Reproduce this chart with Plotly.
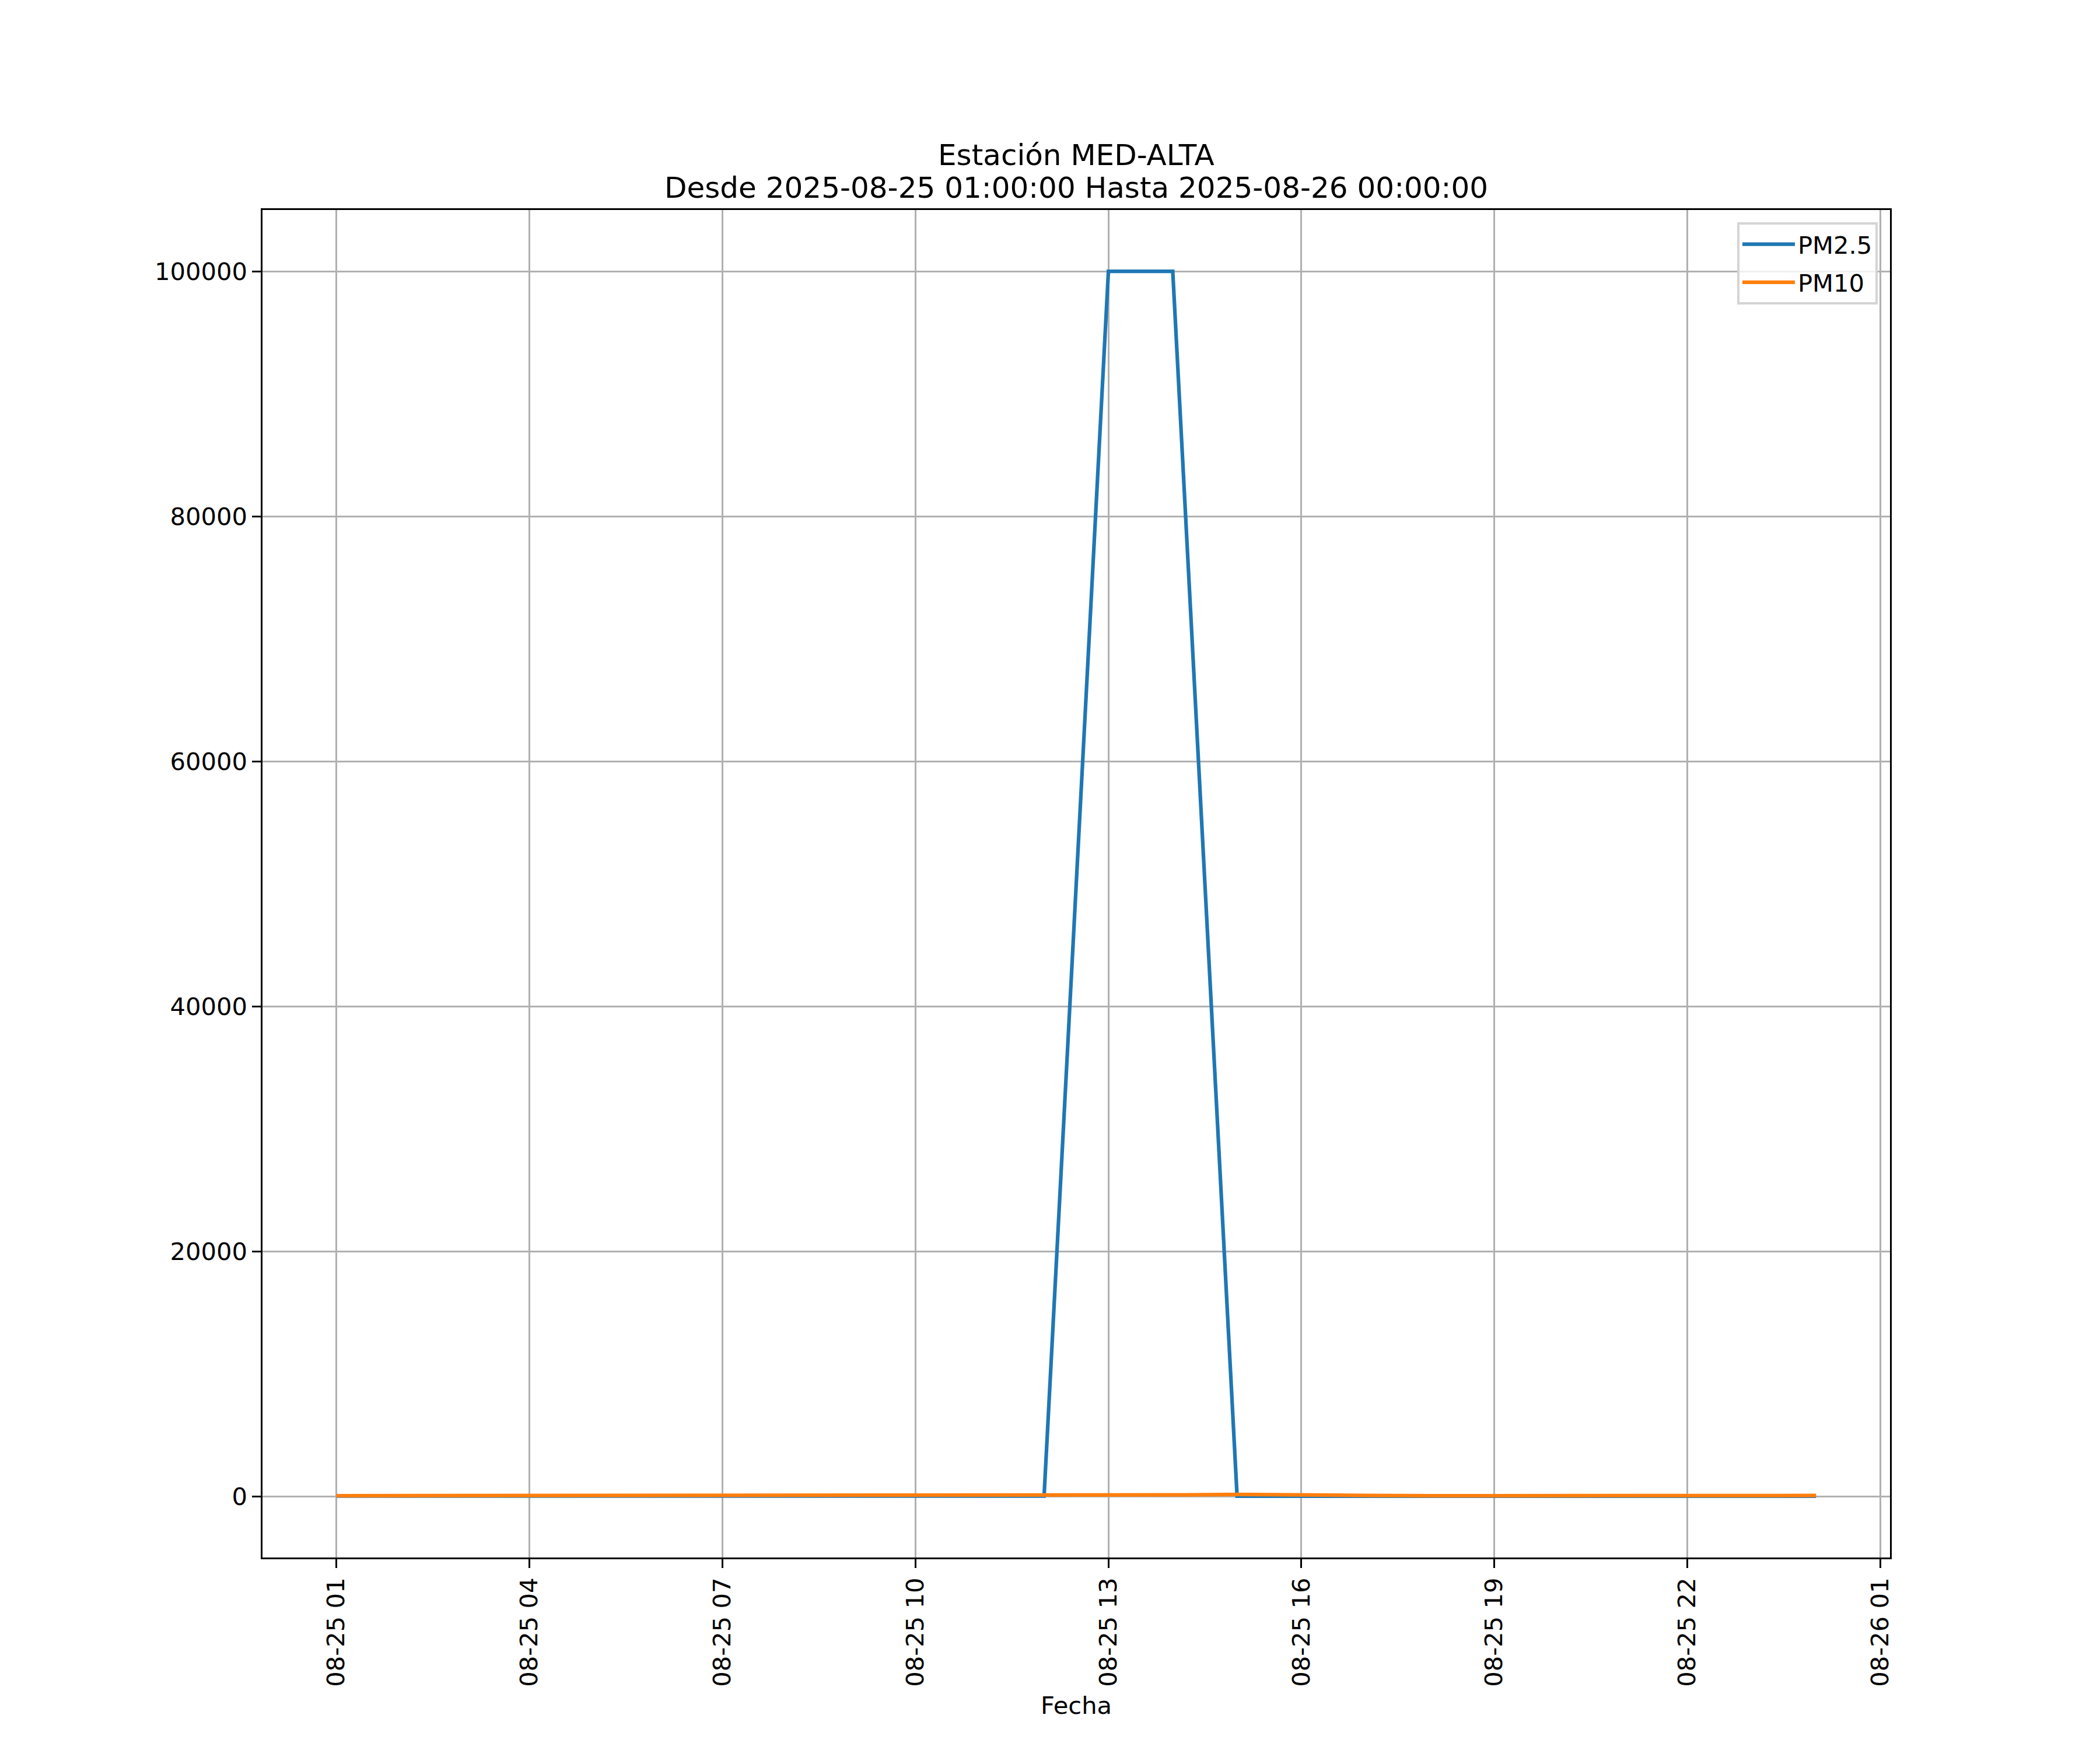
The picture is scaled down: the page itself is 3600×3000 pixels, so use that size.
import plotly.graph_objects as go
import pandas as pd

times = pd.date_range("2025-08-25 01:00:00", "2025-08-26 00:00:00", freq="h")
pm25 = [18, 20, 22, 15, 14, 19, 21, 17, 16, 12, 14, 15,
        100000, 100000,
        10, 12, 9, 8, 11, 13, 10, 12, 14, 11]
pm10 = [45, 50, 60, 35, 30, 55, 70, 55, 50, 38, 42, 48,
        80, 110, 150, 140, 70, 40, 45, 60, 50, 55, 75, 60]
series_names = ["PM2.5", "PM10"]
colors = ["#1f77b4", "#ff7f0e"]
yticks = [0, 20000, 40000, 60000, 80000, 100000]
title_lines = ["Estación MED-ALTA", "Desde 2025-08-25 01:00:00 Hasta 2025-08-26 00:00:00"]

# page body has an 8px margin; compensate so the plot area lands at 450..3240 x 360..2670
OFF = 8
W, H = 3600 - 2 * OFF, 3000 - 2 * OFF
PL, PR, PT, PB = 450, 3240, 360, 2670
L, R, T, B = PL - OFF, (OFF + W) - PR, PT - OFF, (OFF + H) - PB
PH = PB - PT
FONT = "DejaVu Sans"
px_pt = 300 / 72


def ypaper(y_screen):
    return (PB - y_screen) / PH


fig = go.Figure()
for i, (name, vals, col) in enumerate(zip(series_names, [pm25, pm10], colors)):
    fig.add_trace(go.Scatter(x=times, y=vals, mode="lines", name=name, legendgroup=f"g{i}",
                             line=dict(color=col, width=1.5 * px_pt)))

span = times[-1] - times[0]
xr = [times[0] - 0.05 * span, times[-1] + 0.05 * span]

axis_common = dict(showline=True, linecolor="black", linewidth=0.8 * px_pt, mirror=True,
                   showgrid=True, gridcolor="#b0b0b0", gridwidth=0.8 * px_pt,
                   ticks="outside", ticklen=3.5 * px_pt, tickwidth=0.8 * px_pt, tickcolor="black",
                   tickfont=dict(family=FONT, size=10 * px_pt, color="black"), zeroline=False)

fig.update_layout(
    width=W, height=H,
    margin=dict(l=L, r=R, t=T, b=B, autoexpand=False),
    paper_bgcolor="white", plot_bgcolor="white",
    font=dict(family=FONT, color="black"),
    xaxis=dict(range=xr, tick0=times[0], dtick=3 * 3600 * 1000, tickformat="%m-%d %H",
               tickangle=-90, **axis_common),
    yaxis=dict(range=[-5000, 105000], tickvals=yticks, tickformat="d", **axis_common),
    legend=dict(x=(3219 - PL) / (PR - PL), y=ypaper(381), xanchor="right", yanchor="top",
                bgcolor="rgba(255,255,255,0.8)", bordercolor="#d4d4d4", borderwidth=4,
                itemwidth=90, tracegroupgap=8,
                font=dict(family=FONT, size=10 * px_pt, color="black")),
    showlegend=True,
)
for txt, yc in zip(title_lines, [262, 318]):
    fig.add_annotation(text=txt, xref="paper", yref="paper", x=0.5, y=ypaper(yc + 4),
                       xanchor="center", yanchor="middle", showarrow=False,
                       font=dict(family=FONT, size=12 * px_pt, color="black"))
fig.add_annotation(text="Fecha", xref="paper", yref="paper", x=0.5, y=ypaper(2923),
                   xanchor="center", yanchor="middle", showarrow=False,
                   font=dict(family=FONT, size=10 * px_pt, color="black"))

fig.write_html("out.html")
